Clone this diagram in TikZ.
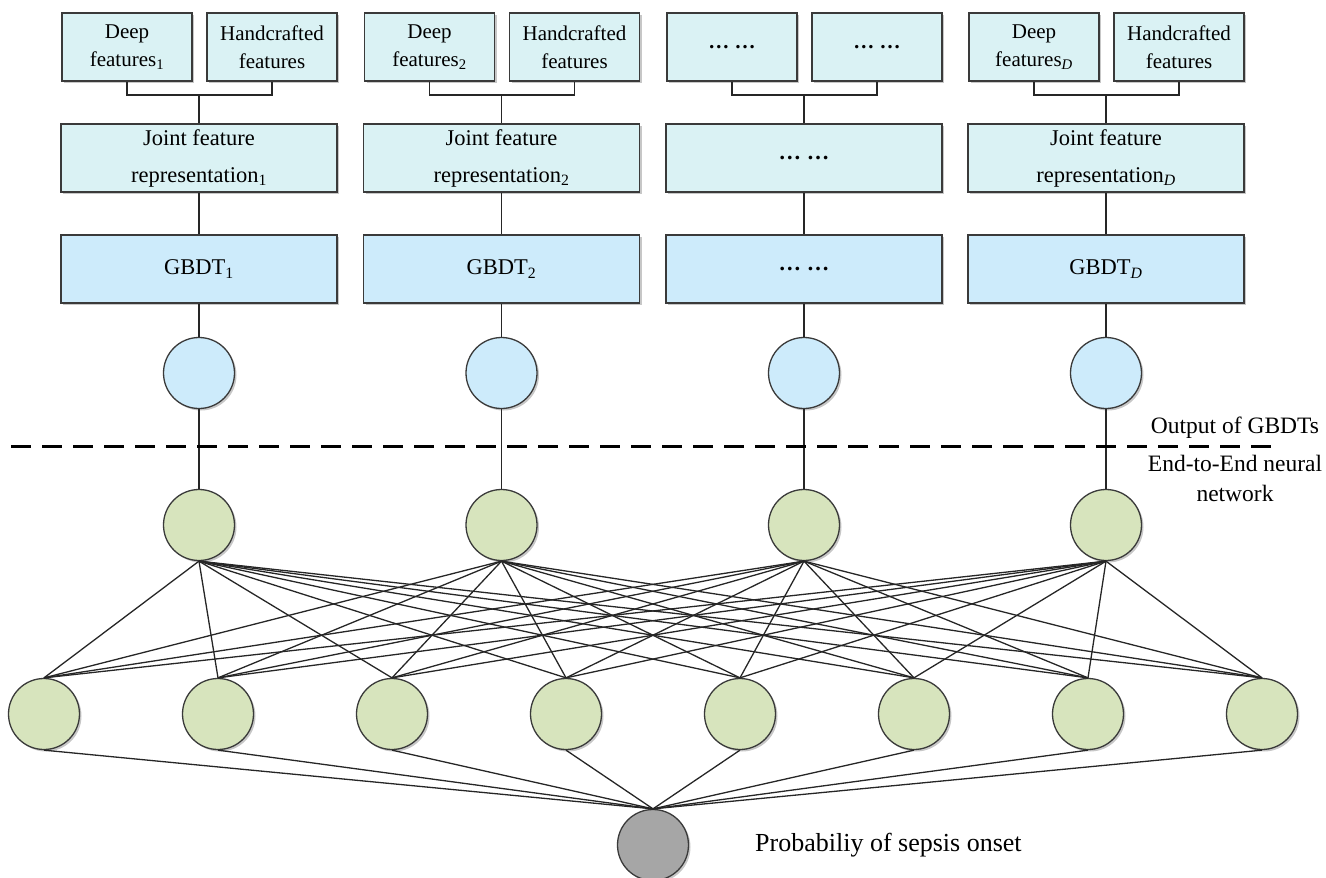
\documentclass[tikz,border=0pt]{standalone}
\usepackage{fontspec}
\setmainfont{Liberation Serif}
\usetikzlibrary{shadows}

\definecolor{featfill}{HTML}{DAF2F4}
\definecolor{gbdtfill}{HTML}{CDEBFB}
\definecolor{leaffill}{HTML}{CDEBFB}
\definecolor{neurfill}{HTML}{D7E4BD}
\definecolor{outfill}{HTML}{A6A6A6}
\definecolor{edge}{HTML}{3A3A3A}

\newcommand{\gap}{\textbf{… …}}

\tikzset{
  softshadow/.style={drop shadow={shadow xshift=2pt, shadow yshift=-2pt, opacity=0.22, fill=black}},
  box/.style={draw=edge, line width=1.6pt, align=center, inner sep=0pt,
    minimum height=68pt, softshadow},
  smallbox/.style={box, fill=featfill, minimum width=130pt,
    font=\fontsize{21}{28}\selectfont},
  jointbox/.style={box, fill=featfill, minimum width=276pt,
    font=\fontsize{22.5}{37}\selectfont},
  gbdtbox/.style={box, fill=gbdtfill, minimum width=276pt,
    font=\fontsize{22.5}{26}\selectfont},
  neuron/.style={circle, draw=edge, line width=1.3pt, minimum size=71pt,
    inner sep=0pt, softshadow},
  link/.style={draw=black!85, line width=1.3pt},
  sidelabel/.style={align=center, inner sep=0pt, font=\fontsize{23.5}{30}\selectfont},
}

\begin{document}
\begin{tikzpicture}[x=1pt, y=-1pt]
  \useasboundingbox (0,0) rectangle (1326,878);

  % ---- feature boxes (top row) ----
  \node[smallbox] (d1) at (127,47)    {Deep\\features\textsubscript{1}};
  \node[smallbox] (h1) at (272,47)    {Handcrafted\\features};
  \node[smallbox] (d2) at (429.5,47)  {Deep\\features\textsubscript{2}};
  \node[smallbox] (h2) at (574.5,47)  {Handcrafted\\features};
  \node[smallbox] (d3) at (732,47)    {\raisebox{-4pt}{\gap}};
  \node[smallbox] (h3) at (877,47)    {\raisebox{-4pt}{\gap}};
  \node[smallbox] (d4) at (1034,47)   {Deep\\features\textsubscript{\textit{D}}};
  \node[smallbox] (h4) at (1179,47)   {Handcrafted\\features};

  % ---- joint feature representations ----
  \node[jointbox] (jr1) at (199,158)   {Joint feature\\representation\textsubscript{1}};
  \node[jointbox] (jr2) at (501.5,158) {Joint feature\\representation\textsubscript{2}};
  \node[jointbox] (jr3) at (804,158)   {\raisebox{-2pt}{\gap}};
  \node[jointbox] (jr4) at (1106,158)  {Joint feature\\representation\textsubscript{\textit{D}}};

  % ---- GBDT models ----
  \node[gbdtbox] (g1) at (199,269)   {GBDT\textsubscript{1}};
  \node[gbdtbox] (g2) at (501.5,269) {GBDT\textsubscript{2}};
  \node[gbdtbox] (g3) at (804,269)   {\raisebox{-1pt}{\gap}};
  \node[gbdtbox] (g4) at (1106,269)  {GBDT\textsubscript{\textit{D}}};

  % ---- GBDT outputs and first network layer ----
  \foreach \i/\x in {1/199, 2/501.5, 3/804, 4/1106} {
    \node[neuron, fill=leaffill] (o\i) at (\x,373) {};
    \node[neuron, fill=neurfill] (n\i) at (\x,525) {};
    \coordinate (j\i) at (\x,95);
    \draw[link] (d\i.south) |- (j\i) -| (h\i.south);
    \draw[link] (j\i) -- (jr\i.north);
    \draw[link] (jr\i.south) -- (g\i.north);
    \draw[link] (g\i.south) -- (o\i.north);
    \draw[link] (o\i.south) -- (n\i.north);
  }

  % ---- hidden layer ----
  \foreach \j in {1,...,8} {
    \node[neuron, fill=neurfill] (b\j) at ({44+174*(\j-1)},714) {};
  }

  % ---- output neuron ----
  \node[neuron, fill=outfill] (out) at (653,845) {};
  \node[anchor=west, inner sep=0pt, font=\fontsize{26}{30}\selectfont]
    (plabel) at (755,845) {Probabiliy of sepsis onset};

  % ---- dense connections ----
  \foreach \i in {1,...,4} {
    \foreach \j in {1,...,8} {
      \draw[link] (n\i.south) -- (b\j.north);
    }
  }
  \foreach \j in {1,...,8} {
    \draw[link] (b\j.south) -- (out.north);
  }

  % ---- separator between GBDT stage and neural network ----
  \coordinate (sepL) at (11,446);
  \coordinate (sepR) at (1281,446);
  \draw[line width=3pt, dash pattern=on 20pt off 11pt] (sepL) -- (sepR);
  \node[sidelabel] (upper) at (1235,428) {Output of GBDTs};
  \node[sidelabel] (lower) at (1235,478) {End-to-End neural\\network};
\end{tikzpicture}
\end{document}
